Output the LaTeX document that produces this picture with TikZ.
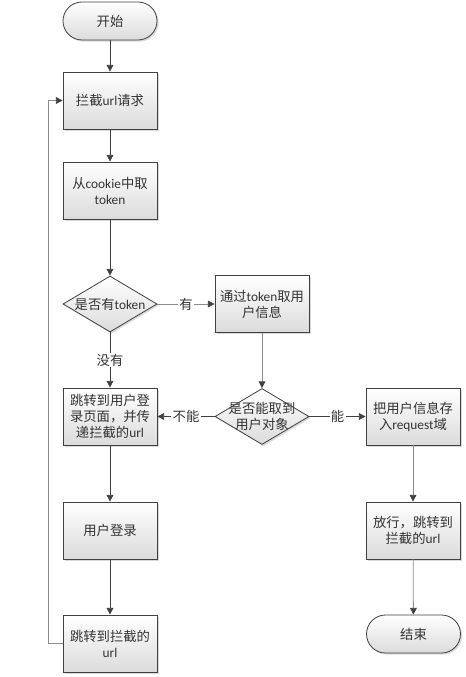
\documentclass[tikz,border=0pt]{standalone}
\usepackage{fontspec}
\setmainfont{Noto Sans CJK SC}
\newfontfamily\lat{Carlito}
\usetikzlibrary{shapes.geometric,arrows.meta,shadows}
\definecolor{linedark}{HTML}{404040}
\definecolor{linegray}{HTML}{8C8C8C}

\begin{document}
\begin{tikzpicture}[x=0.75pt, y=-0.75pt,
    every node/.style={font=\fontsize{10}{12}\selectfont, text=black!80, align=center},
    boxbase/.style={draw=linedark, line width=0.6pt, top color=white, bottom color=black!14,
        inner sep=0pt, drop shadow={shadow xshift=1.2pt, shadow yshift=-1.2pt, opacity=0.3}},
    procbox/.style={boxbase, minimum width=70.5pt, minimum height=42.75pt},
    termbox/.style={boxbase, rounded corners=14.25pt, minimum width=70.5pt, minimum height=28.5pt},
    decbox/.style={boxbase, diamond, minimum width=70.5pt, minimum height=42pt},
    edgelabel/.style={fill=white, inner sep=1pt},
    flow/.style={draw=linedark, line width=0.6pt, -{Triangle[length=5pt, width=5pt, color=linedark]}}]

    \useasboundingbox (0,0) rectangle (465,677);

    \node[termbox] (start) at (110,21) {开始};
    \node[procbox] (intercept) at (110,100.5) {拦截{\lat url}请求};
    \node[procbox] (cookie) at (110,190.5) {从{\lat cookie}中取\\{\lat token}};
    \node[decbox, label={[align=center]center:是否有{\lat token}}] (hastoken) at (110,304) {};
    \node[procbox] (gettoken) at (262,304) {通过{\lat token}取用\\户信息};
    \node[decbox, label={[align=center]center:是否能取到\\用户对象}] (canget) at (262,416.5) {};
    \node[procbox] (tologin) at (110,416.5) {跳转到用户登\\录页面，并传\\递拦截的{\lat url}};
    \node[procbox] (store) at (413,416.5) {把用户信息存\\入{\lat request}域};
    \node[procbox] (login) at (110,530.5) {用户登录};
    \node[procbox] (redirect) at (110,643.5) {跳转到拦截的\\{\lat url}};
    \node[procbox] (pass) at (413,530.5) {放行，跳转到\\拦截的{\lat url}};
    \node[termbox] (finish) at (413.5,634) {结束};

    \draw[flow] (start) -- (intercept);
    \draw[flow] (intercept) -- (cookie);
    \draw[flow] (cookie) -- (hastoken);
    \draw[flow, draw=linegray] (hastoken) -- node[edgelabel] {有} (gettoken);
    \draw[flow] (hastoken) -- node[edgelabel] {没有} (tologin);
    \draw[flow, draw=linegray] (gettoken) -- (canget);
    \draw[flow] (canget) -- node[edgelabel] {不能} (tologin);
    \draw[flow] (canget) -- node[edgelabel] {能} (store);
    \draw[flow] (tologin) -- (login);
    \draw[flow] (login) -- (redirect);
    \draw[flow, draw=linegray] (store) -- (pass);
    \draw[flow, draw=linegray] (pass) -- (finish);
    \draw[flow, draw=linegray] (redirect.west) -- ++(-14,0) |- (intercept.west);

\end{tikzpicture}
\end{document}
